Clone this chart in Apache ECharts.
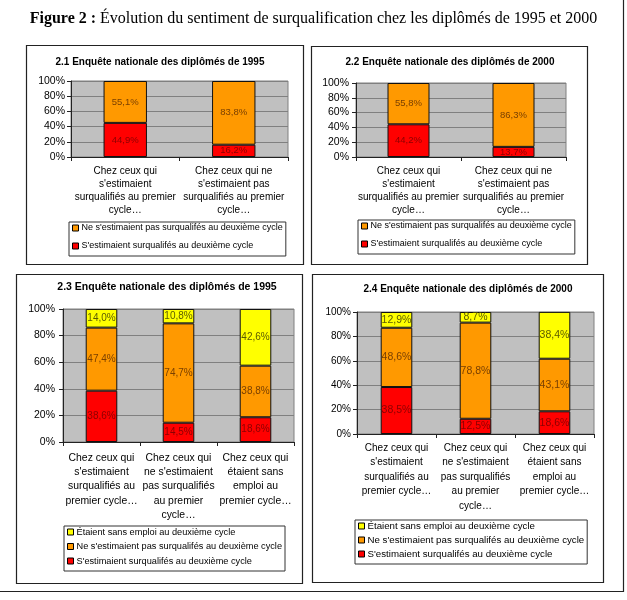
<!DOCTYPE html>
<html>
<head>
<meta charset="utf-8">
<script src="https://cdn.jsdelivr.net/npm/echarts@6/dist/echarts.min.js"></script>
<style>
  html, body { margin: 0; padding: 0; background: #fff; }
  #chart { width: 627px; height: 600px; }
</style>
</head>
<body>
<div id="chart"></div>
<script>
// categories
const cats2 = [
  "Chez ceux qui\ns'estimaient\nsurqualifiés au premier\ncycle…",
  "Chez ceux qui ne\ns'estimaient pas\nsurqualifiés au premier\ncycle…"
];
const cats3 = [
  "Chez ceux qui\ns'estimaient\nsurqualifiés au\npremier cycle…",
  "Chez ceux qui\nne s'estimaient\npas surqualifiés\nau premier\ncycle…",
  "Chez ceux qui\nétaient sans\nemploi au\npremier cycle…"
];
const yTicks = [0, 20, 40, 60, 80, 100];

// 2.1 / 2.2
const red95a = [44.9, 16.2];
const orange95a = [55.1, 83.8];
const red00a = [44.2, 13.7];
const orange00a = [55.8, 86.3];
// 2.3 / 2.4
const red95b = [38.6, 14.5, 18.6];
const orange95b = [47.4, 74.7, 38.8];
const yellow95b = [14.0, 10.8, 42.6];
const red00b = [38.5, 12.5, 18.6];
const orange00b = [48.6, 78.8, 43.1];
const yellow00b = [12.9, 8.7, 38.4];

const NAME_Y = "Étaient sans emploi au deuxième cycle";
const NAME_O = "Ne s'estimaient pas surqualifés au deuxième cycle";
const NAME_R = "S'estimaient surqualifés au deuxième cycle";

const SANS = 'Liberation Sans, Arial, sans-serif';
const SERIF = 'Liberation Serif, Times New Roman, serif';
const COL = { r: '#ff0000', o: '#ff9900', y: '#ffff00' };
const LBL = { r: '#8b0000', o: '#7a4000', y: '#5c5c00' };

const chart = echarts.init(document.getElementById('chart'));

// panels: grid box, fonts, layout
const panels = [
  { title: '2.1 Enquête nationale des diplômés de 1995', tx: 160, ty: 57, tfs: 10,
    grid: { left: 71, top: 81, width: 217, height: 76 }, cats: cats2, yfs: 10.5, ym: 6,
    xfs: 10, xlh: 13, xm: 8, bw: '40%', lfs: 9.5,
    series: [['r', red95a], ['o', orange95a]],
    legend: { left: 69, top: 222, data: [NAME_O, NAME_R], fs: 9, lh: 12, gap: 6 } },
  { title: '2.2 Enquête nationale des diplômés de 2000', tx: 450, ty: 57, tfs: 10,
    grid: { left: 356, top: 83, width: 210, height: 74 }, cats: cats2, yfs: 10.5, ym: 7,
    xfs: 10, xlh: 13, xm: 8, bw: '40%', lfs: 9.5,
    series: [['r', red00a], ['o', orange00a]],
    legend: { left: 358, top: 220, data: [NAME_O, NAME_R], fs: 9, lh: 12, gap: 6 } },
  { title: '2.3 Enquête nationale des diplômés de 1995', tx: 167, ty: 282, tfs: 10.5,
    grid: { left: 63, top: 309, width: 231, height: 133 }, cats: cats3, yfs: 10.5, ym: 8,
    xfs: 10.4, xlh: 14.2, xm: 9, bw: '41%', lfs: 10,
    series: [['r', red95b], ['o', orange95b], ['y', yellow95b]],
    legend: { left: 64, top: 526, data: [NAME_Y, NAME_O, NAME_R], fs: 9.2, lh: 12, gap: 2.5 } },
  { title: '2.4 Enquête nationale des diplômés de 2000', tx: 468, ty: 284, tfs: 10,
    grid: { left: 357, top: 312, width: 237, height: 122 }, cats: cats3, yfs: 10, ym: 6,
    xfs: 10, xlh: 14.4, xm: 7, bw: '40%', lfs: 10.5,
    series: [['r', red00b], ['o', orange00b], ['y', yellow00b]],
    legend: { left: 355, top: 520, data: [NAME_Y, NAME_O, NAME_R], fs: 9.7, lh: 12, gap: 2 } }
];

const names = { r: NAME_R, o: NAME_O, y: NAME_Y };
const fmt = p => p.value.toFixed(1).replace('.', ',') + '%';

const option = {
  animation: false,
  title: [{
    text: '{b|Figure 2 :} Évolution du sentiment de surqualification chez les diplômés de 1995 et 2000',
    left: 'center', top: 11, padding: 0,
    textStyle: {
      fontFamily: SERIF, fontSize: 16, fontWeight: 'normal', color: '#000',
      rich: { b: { fontFamily: SERIF, fontSize: 16, fontWeight: 'bold', color: '#000' } }
    }
  }],
  grid: [], xAxis: [], yAxis: [], series: [], legend: [],
  graphic: [
    // outer frame (right and bottom edges visible)
    { type: 'polyline', shape: { points: [[0, 591.5], [623.5, 591.5], [623.5, 0]] },
      style: { stroke: '#222', lineWidth: 1.2, fill: null } },
    { type: 'rect', shape: { x: 26.5, y: 45.5, width: 277, height: 219 }, style: { stroke: '#222', fill: null, lineWidth: 1.2 } },
    { type: 'rect', shape: { x: 311.5, y: 46.5, width: 276, height: 218 }, style: { stroke: '#222', fill: null, lineWidth: 1.2 } },
    { type: 'rect', shape: { x: 16.5, y: 274.5, width: 286, height: 309 }, style: { stroke: '#222', fill: null, lineWidth: 1.2 } },
    { type: 'rect', shape: { x: 312.5, y: 274.5, width: 291, height: 308 }, style: { stroke: '#222', fill: null, lineWidth: 1.2 } }
  ]
};

panels.forEach((p, i) => {
  option.title.push({
    text: p.title, left: p.tx, top: p.ty, textAlign: 'center', padding: 0,
    textStyle: { fontFamily: SANS, fontSize: p.tfs, fontWeight: 'bold', color: '#000' }
  });
  option.grid.push(Object.assign({
    show: true, backgroundColor: '#c0c0c0', borderColor: '#808080', borderWidth: 1
  }, p.grid));
  option.xAxis.push({
    type: 'category', gridIndex: i, data: p.cats,
    axisLine: { lineStyle: { color: '#222', width: 1 } },
    axisTick: { show: true, length: 4, lineStyle: { color: '#222' } },
    axisLabel: { interval: 0, color: '#000', fontFamily: SANS, fontSize: p.xfs, lineHeight: p.xlh, margin: p.xm, align: 'center' }
  });
  option.yAxis.push({
    type: 'value', gridIndex: i, min: yTicks[0], max: yTicks[yTicks.length - 1], interval: yTicks[1] - yTicks[0],
    axisLine: { show: true, lineStyle: { color: '#222', width: 1 } },
    axisTick: { show: true, length: 4, lineStyle: { color: '#222' } },
    axisLabel: { color: '#000', fontFamily: SANS, fontSize: p.yfs, margin: p.ym, formatter: '{value}%' },
    splitLine: { show: true, lineStyle: { color: '#808080', width: 1 } }
  });
  p.series.forEach(([k, vals]) => {
    option.series.push({
      name: names[k], type: 'bar', stack: 'g' + i, xAxisIndex: i, yAxisIndex: i,
      data: vals, barWidth: p.bw,
      itemStyle: { color: COL[k], borderColor: '#111', borderWidth: 1 },
      label: { show: true, position: 'inside', formatter: fmt, color: LBL[k], fontFamily: SANS, fontSize: p.lfs }
    });
  });
  option.legend.push({
    left: p.legend.left, top: p.legend.top, orient: 'vertical',
    data: p.legend.data, selectedMode: false,
    backgroundColor: '#fff', borderColor: '#333', borderWidth: 1,
    padding: [0, 3, 4, 3], itemGap: p.legend.gap,
    itemWidth: 6, itemHeight: 6, icon: 'rect',
    itemStyle: { borderColor: '#000', borderWidth: 1 },
    textStyle: { color: '#000', fontFamily: SANS, fontSize: p.legend.fs, lineHeight: p.legend.lh, padding: [0, 0, 0, -2] }
  });
});

chart.setOption(option);
</script>
</body>
</html>
